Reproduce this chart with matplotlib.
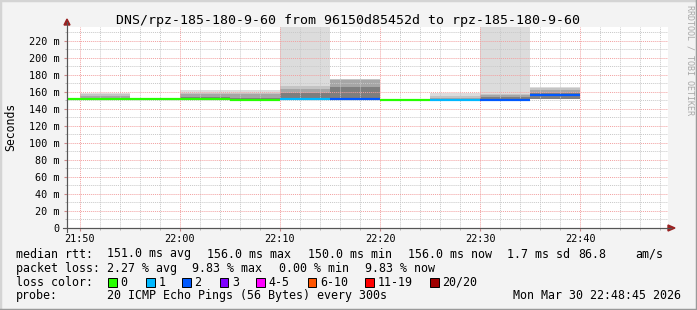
import numpy as np
import matplotlib
matplotlib.use("Agg")
import matplotlib.pyplot as plt
from matplotlib.lines import Line2D
from matplotlib.patches import Rectangle, Polygon

plt.rcParams["font.family"] = ["DejaVu Sans Mono"]

# one smokeping sample every 5 minutes (start of each interval)
slot_start = ["21:45", "21:50", "21:55", "22:00", "22:05", "22:10",
              "22:15", "22:20", "22:25", "22:30", "22:35"]
median_ms = [151.0, 151.0, 151.0, 151.5, 150.0, 151.5, 151.5, 150.5, 150.5, 150.5, 156.0]
lost_pings = [0, 0, 0, 0, 0, 1, 2, 0, 1, 2, 2]
# smoke bands (sorted ping spread), ms
smoke_min = [151.0, 150.5, 150.5, 150.5, 149.5, 150.5, 150.5, 150.5, 150.0, 150.0, 151.0]
smoke_max = [151.0, 158.5, 152.5, 162.0, 162.0, 240.0, 175.0, 150.5, 158.5, 240.0, 165.0]
smoke_p90 = [151.0, 157.0, 152.0, 159.0, 158.0, 167.0, 174.5, 150.5, 155.0, 157.5, 164.0]
smoke_p75 = [151.0, 155.0, 151.5, 157.0, 157.0, 163.0, 174.0, 150.5, 153.0, 156.0, 162.0]
smoke_p60 = [151.0, 152.0, 151.0, 154.0, 153.0, 159.0, 166.0, 150.5, 151.5, 154.0, 159.0]

x_labels = ["21:50", "22:00", "22:10", "22:20", "22:30", "22:40"]

loss_labels = ["0", "1", "2", "3", "4-5", "6-10", "11-19", "20/20"]
loss_colors = ["#26ff00", "#00b8ff", "#0059ff", "#7e00ff", "#ff00ff",
               "#ff5500", "#ff0000", "#a00000"]

title = "DNS/rpz-185-180-9-60 from 96150d85452d to rpz-185-180-9-60"


def to_min(s):
    h, m = s.split(":")
    return (int(h) - 21) * 60 + int(m) - 50   # minutes after 21:50


W, H = 697, 310


def fx(x):
    return x / W


def fy(y):
    return 1 - y / H


fig = plt.figure(figsize=(W / 100, H / 100), dpi=100, facecolor="#f3f3f3")
ax = fig.add_axes([fx(67), fy(228), (668 - 67) / W, (228 - 27) / H])
ax.set_facecolor("white")

starts = [to_min(s) for s in slot_start]
edges = np.array(starts + [starts[-1] + 5])

# smoke, outer (light) to inner (dark)
bands = [(smoke_max, "#dcdcdc"), (smoke_p90, "#c4c4c4"),
         (smoke_p75, "#a6a6a6"), (smoke_p60, "#7e7e7e")]
for top, col in bands:
    ax.stairs(top, edges, baseline=smoke_min, fill=True, color=col, lw=0, zorder=1)

# median line coloured by loss
med_cols = [loss_colors[n] for n in lost_pings]
ax.hlines(median_ms, edges[:-1], edges[1:], colors=med_cols, lw=1.6, zorder=4)

ax.set_xlim(-1.25, 58.75)
ax.set_ylim(0, 236)

ax.set_xticks([to_min(s) for s in x_labels])
ax.set_xticklabels(x_labels)
ax.set_xticks(np.arange(0, 59, 2), minor=True)
yt = np.arange(0, 221, 20)
ax.set_yticks(yt)
ax.set_yticklabels(["0" if v == 0 else f"{v} m" for v in yt])
ax.set_yticks(np.arange(10, 236, 10), minor=True)

ax.grid(which="minor", color="#c8c8c8", lw=0.7, ls=(0, (1, 1)))
ax.grid(which="major", color="#f2a0a0", lw=0.7, ls=(0, (1, 1)))
ax.set_axisbelow(False)

ax.tick_params(which="major", labelsize=7.3, length=2.5, color="#cc8888",
               labelcolor="black", pad=2.8)
ax.tick_params(axis="x", which="major", pad=1.5)
ax.tick_params(which="minor", length=1.5, color="#aaaaaa")
for sp in ["top", "right"]:
    ax.spines[sp].set_visible(False)
for sp in ["left", "bottom"]:
    ax.spines[sp].set_color("#555555")
    ax.spines[sp].set_linewidth(0.8)

# axis extensions and arrows
fig.add_artist(Line2D([fx(67), fx(67)], [fy(232), fy(22)], color="#555555", lw=0.8))
fig.add_artist(Line2D([fx(63), fx(671)], [fy(228), fy(228)], color="#555555", lw=0.8))
fig.add_artist(Polygon([[fx(64), fy(25)], [fx(70), fy(25)], [fx(67), fy(19)]],
                       closed=True, color="#992222"))
fig.add_artist(Polygon([[fx(668), fy(225)], [fx(668), fy(231)], [fx(675), fy(228)]],
                       closed=True, color="#992222"))

fig.text(0.5, fy(24), title, ha="center", va="baseline", fontsize=9.5)
fig.text(fx(11), fy(127), "Seconds", rotation=90, ha="center", va="center", fontsize=8.3)
fig.text(fx(690), fy(5), "RRDTOOL / TOBI OETIKER", rotation=270, ha="center",
         va="top", fontsize=6.0, color="#a8a8a8")

# legend block
fs = 8.4
row1 = [(16, "median rtt:"), (107, "151.0 ms avg"), (207, "156.0 ms max"),
        (308, "150.0 ms min"), (408, "156.0 ms now"), (507, "1.7 ms sd"),
        (578, "86.8"), (635, "am/s")]
row2 = [(16, "packet loss:"), (107, "2.27 % avg"), (192, "9.83 % max"),
        (279, "0.00 % min"), (365, "9.83 % now")]
for x, s in row1:
    fig.text(fx(x), fy(257.5), s, va="baseline", fontsize=fs)
for x, s in row2:
    fig.text(fx(x), fy(271.8), s, va="baseline", fontsize=fs)

fig.text(fx(16), fy(285.6), "loss color:", va="baseline", fontsize=fs)
box_x = [108, 146, 182, 219.5, 256, 307.5, 365, 430]
for bx, lab, col in zip(box_x, loss_labels, loss_colors):
    fig.add_artist(Rectangle((fx(bx), fy(286.5)), 8.5 / W, 8.5 / H,
                             facecolor=col, edgecolor="black", lw=0.7))
    fig.text(fx(bx + 12.5), fy(285.6), lab, va="baseline", fontsize=fs)

fig.text(fx(16), fy(299.3), "probe:", va="baseline", fontsize=fs)
fig.text(fx(107), fy(299.3), "20 ICMP Echo Pings (56 Bytes) every 300s",
         va="baseline", fontsize=fs)
fig.text(fx(681), fy(299.3), "Mon Mar 30 22:48:45 2026", ha="right",
         va="baseline", fontsize=fs)

# 3d-ish frame
fig.add_artist(Line2D([0, 0, 1], [0, 1, 1], color="#d4d4d4", lw=2.5))
fig.add_artist(Line2D([0, 1, 1], [0, 0, 1], color="#9a9a9a", lw=2.5))

fig.savefig("out.png", dpi=100, facecolor=fig.get_facecolor())
